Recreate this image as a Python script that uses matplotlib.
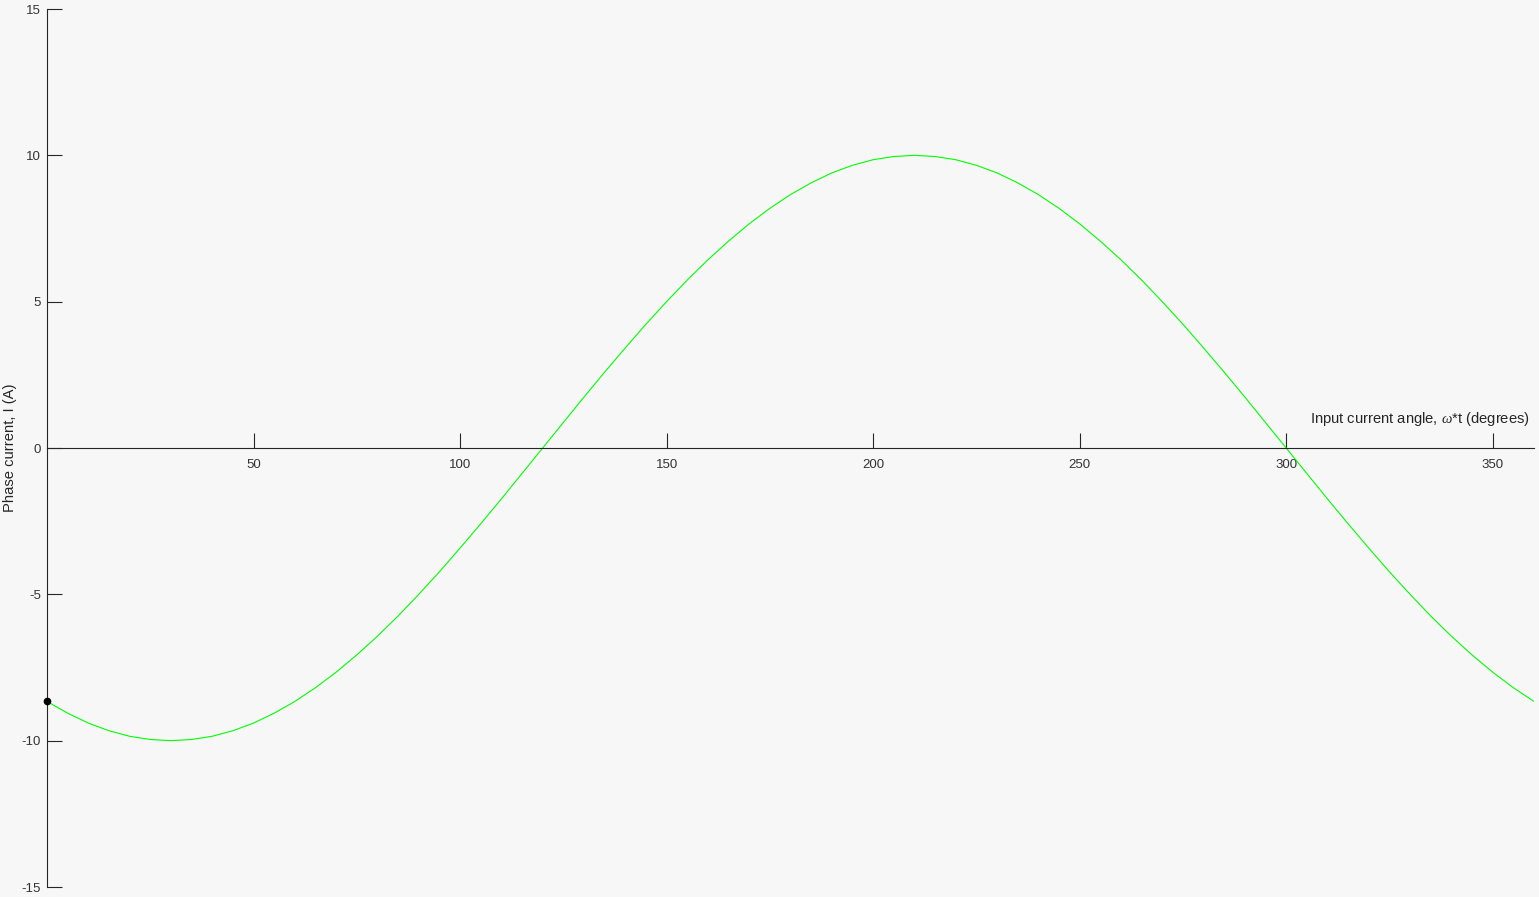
import numpy as np
import matplotlib.pyplot as plt

plt.rcParams['font.family'] = ['Liberation Sans', 'DejaVu Sans']
plt.rcParams['mathtext.fontset'] = 'custom'
plt.rcParams['mathtext.it'] = 'Liberation Serif:italic'
plt.rcParams['axes.unicode_minus'] = False

# angle in degrees, phase current in A (every 5 degrees)
angle = list(range(0, 361, 5))
current = [-8.66, -9.06, -9.40, -9.66, -9.85, -9.96, -10.00, -9.96, -9.85,
           -9.66, -9.40, -9.06, -8.66, -8.19, -7.66, -7.07, -6.43, -5.74,
           -5.00, -4.23, -3.42, -2.59, -1.74, -0.87, 0.00, 0.87, 1.74, 2.59,
           3.42, 4.23, 5.00, 5.74, 6.43, 7.07, 7.66, 8.19, 8.66, 9.06, 9.40,
           9.66, 9.85, 9.96, 10.00, 9.96, 9.85, 9.66, 9.40, 9.06, 8.66, 8.19,
           7.66, 7.07, 6.43, 5.74, 5.00, 4.23, 3.42, 2.59, 1.74, 0.87, 0.00,
           -0.87, -1.74, -2.59, -3.42, -4.23, -5.00, -5.74, -6.43, -7.07,
           -7.66, -8.19, -8.66]
xticks = [50, 100, 150, 200, 250, 300, 350]
yticks = [-15, -10, -5, 0, 5, 10, 15]

bg = '#f7f7f7'
fig = plt.figure(figsize=(15.39, 8.97), dpi=100, facecolor=bg)
ax = fig.add_axes([47/1539, 10/897, 1487/1539, 878/897], facecolor=bg)

ax.plot(angle, current, color='#00ff00', linewidth=0.8,
        solid_joinstyle='round')
ax.plot(angle[0], current[0], 'o', color='black', markersize=4.5,
        clip_on=False, zorder=5)

ax.set_xlim(0, 360)
ax.set_ylim(-15, 15)

for s in ['top', 'right']:
    ax.spines[s].set_visible(False)
ax.spines['bottom'].set_position(('data', 0))
ax.spines['left'].set_position(('data', 0))
for s in ['bottom', 'left']:
    ax.spines[s].set_color('#262626')
    ax.spines[s].set_linewidth(0.8)

ax.set_xticks(xticks)
ax.set_yticks(yticks)
ax.tick_params(axis='both', direction='in', length=11, width=0.8,
               color='#262626', labelcolor='#333333', labelsize=9.5)
ax.tick_params(axis='x', pad=8)
ax.tick_params(axis='y', pad=4.5)

fig.text(1530/1539, (897-419)/897, r'Input current angle, $\omega$*t (degrees)',
         ha='right', va='center', fontsize=10.6, color='#262626')
fig.text(10/1539, (897-448)/897, 'Phase current, I (A)', rotation=90,
         ha='center', va='center', fontsize=10.6, color='#262626')

fig.savefig('out.png', dpi=100, facecolor=bg)
